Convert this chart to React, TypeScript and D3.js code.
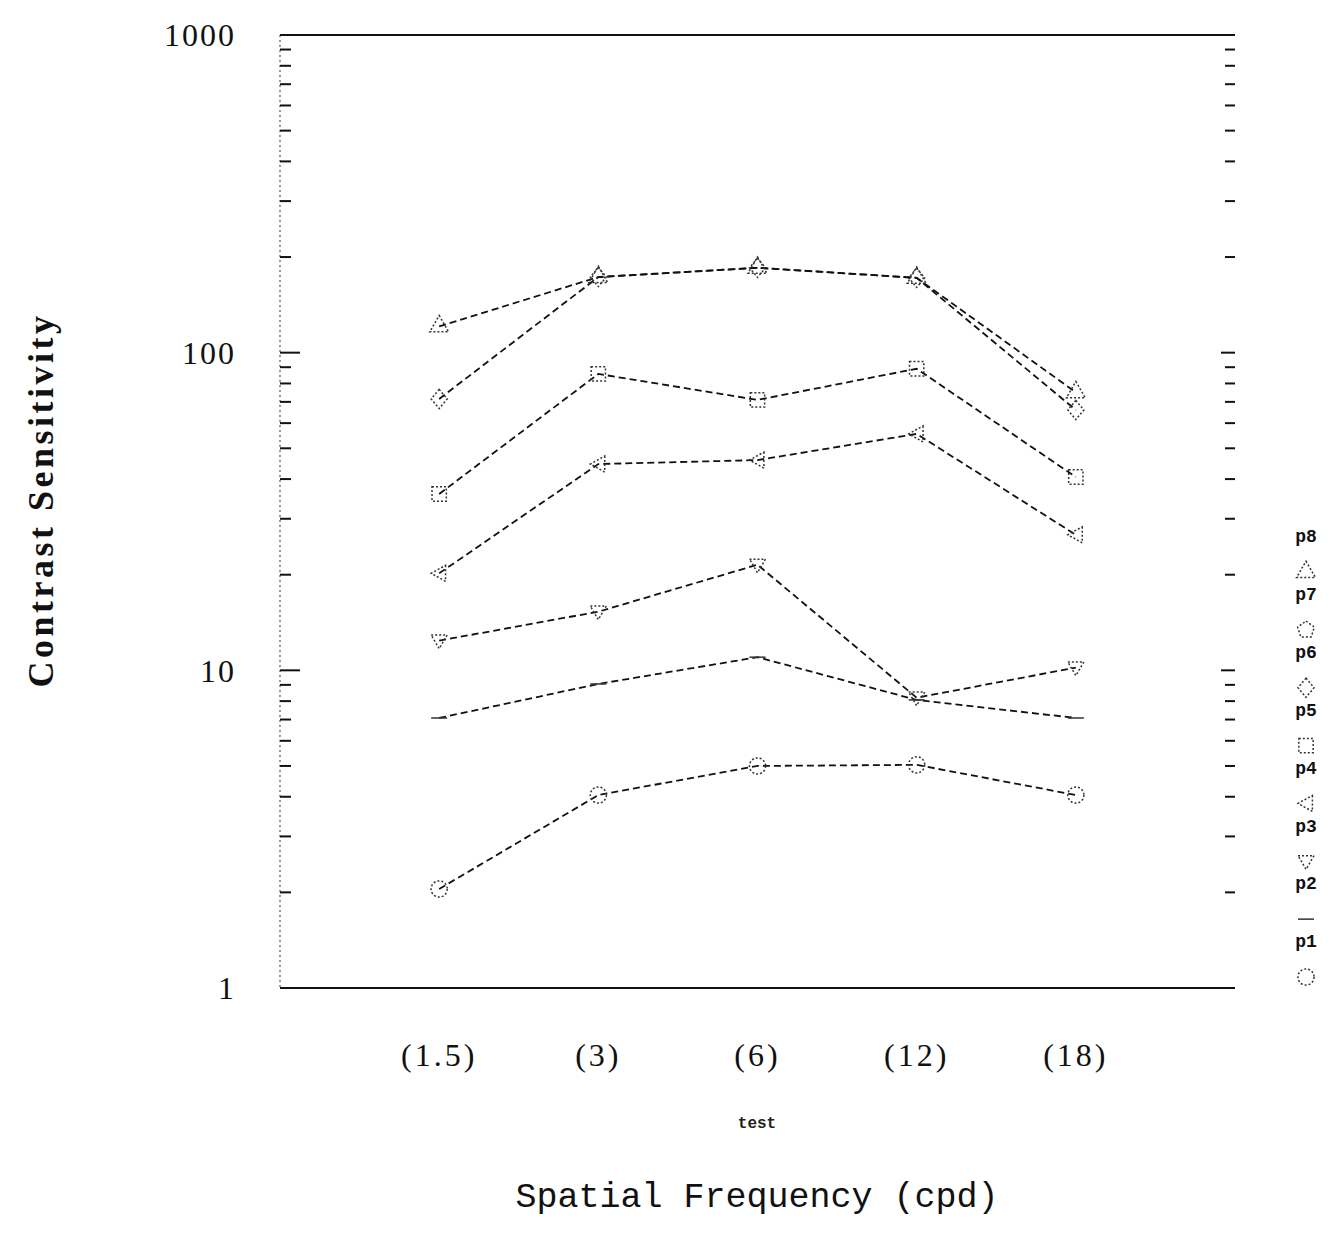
import React from "react";
import * as d3 from "d3";

const categories = ["(1.5)", "(3)", "(6)", "(12)", "(18)"];
const seriesNames = ["p1", "p2", "p3", "p4", "p5", "p6", "p7", "p8"];
const p1 = [2.05, 4.05, 5.0, 5.04, 4.05];
const p2 = [7.08, 9.06, 11.0, 8.07, 7.08];
const p3 = [12.4, 15.3, 21.5, 8.2, 10.2];
const p4 = [20.2, 44.6, 45.9, 55.5, 26.7];
const p5 = [35.9, 85.7, 71, 89, 40.6];
const p6 = [71.5, 173, 185, 172, 66];
const p7: number[] = [];
const p8 = [121, 173, 185, 172, 75];
const seriesValues = [p1, p2, p3, p4, p5, p6, p7, p8];
const yTickLabels = [1, 10, 100, 1000];

const W = 1329, H = 1239;
const L = 280, R = 1235, T = 35, B = 988;

type Shape = "circle" | "dash" | "tridown" | "trileft" | "square" | "diamond" | "pentagon" | "triup";
const shapes: Shape[] = ["circle", "dash", "tridown", "trileft", "square", "diamond", "pentagon", "triup"];

function markerPath(shape: Shape, s: number): string {
  switch (shape) {
    case "circle": return d3.symbol(d3.symbolCircle, s * s * 0.8)() || "";
    case "square": return d3.symbol(d3.symbolSquare, s * s * 0.8)() || "";
    case "diamond": return `M0,${-s * 0.6}L${s * 0.5},0L0,${s * 0.6}L${-s * 0.5},0Z`;
    case "triup": return d3.symbol(d3.symbolTriangle, s * s * 0.6)() || "";
    case "tridown": return `M${-s * 0.5},${-s * 0.35}L${s * 0.5},${-s * 0.35}L0,${s * 0.5}Z`;
    case "trileft": return `M${s * 0.4},${-s * 0.5}L${s * 0.4},${s * 0.5}L${-s * 0.5},0Z`;
    case "pentagon": {
      const pts = d3.range(5).map(i => {
        const a = -Math.PI / 2 + (i * 2 * Math.PI) / 5;
        return [Math.cos(a) * s * 0.55, Math.sin(a) * s * 0.55];
      });
      return "M" + pts.map(p => p.join(",")).join("L") + "Z";
    }
    case "dash": return `M${-s * 0.5},0L${s * 0.5},0`;
  }
}

export default function App() {
  const x = d3.scalePoint<string>().domain(categories).range([L, R]).padding(1);
  const y = d3.scaleLog().domain([1, 1000]).range([B, T]);
  const line = d3.line<number>()
    .x((_, i) => x(categories[i]) as number)
    .y(d => y(d));

  const ticks: { v: number; major: boolean }[] = [];
  for (let dec = 1; dec < 1000; dec *= 10) {
    for (let k = 1; k <= 9; k++) ticks.push({ v: k * dec, major: k === 1 });
  }
  ticks.push({ v: 1000, major: true });

  const legY = d3.scaleLinear().domain([0, 7]).range([977, 572]);
  const serif = "'Liberation Serif', 'DejaVu Serif', serif";
  const mono = "'Liberation Mono', 'DejaVu Sans Mono', monospace";

  return (
    <svg width={W} height={H} style={{ position: "absolute", left: 0, top: 0, background: "#fff" }}>
      <rect x={0} y={0} width={W} height={H} fill="#fff" />
      {/* frame */}
      <line x1={L} x2={R} y1={T} y2={T} stroke="#111" strokeWidth={2} />
      <line x1={L} x2={R} y1={B} y2={B} stroke="#111" strokeWidth={2} />
      <line x1={L} x2={L} y1={T} y2={B} stroke="#555" strokeWidth={1.2} strokeDasharray="2,3" />
      {ticks.map((t, i) => (
        <g key={i}>
          <line x1={L} x2={L + (t.major ? 20 : 11)} y1={y(t.v)} y2={y(t.v)} stroke="#111" strokeWidth={2} />
          <line x1={R - (t.major ? 14 : 10)} x2={R} y1={y(t.v)} y2={y(t.v)} stroke="#111" strokeWidth={2} />
        </g>
      ))}
      {yTickLabels.map(v => (
        <text key={v} x={236} y={y(v)} dy="0.35em" textAnchor="end" fontFamily={serif} fontSize={32} letterSpacing={2} fill="#111">{v}</text>
      ))}
      {categories.map(c => (
        <text key={c} x={x(c)} y={1055} dy="0.35em" textAnchor="middle" fontFamily={serif} fontSize={32} letterSpacing={3} fill="#111">{c}</text>
      ))}
      <text x={757} y={1122} dy="0.35em" textAnchor="middle" fontFamily={mono} fontSize={16} fontWeight="bold" fill="#222">test</text>
      <text x={757} y={1195} dy="0.35em" textAnchor="middle" fontFamily={mono} fontSize={35} fill="#111">Spatial Frequency (cpd)</text>
      <text transform={`translate(40,500) rotate(-90)`} dy="0.35em" textAnchor="middle" fontFamily={serif} fontSize={36} fontWeight="bold" letterSpacing={3.5} fill="#111">Contrast Sensitivity</text>

      {/* series */}
      {seriesValues.map((vals, si) => vals.length ? (
        <g key={seriesNames[si]}>
          <path d={line(vals) || ""} fill="none" stroke="#111" strokeWidth={1.8} strokeDasharray="7,4" />
          {vals.map((v, i) => (
            <path key={i} d={markerPath(shapes[si], 16)} transform={`translate(${x(categories[i])},${y(v)})`} fill="none" stroke="#333" strokeWidth={1.5} strokeDasharray={shapes[si] === "dash" ? "none" : "2,2"} />
          ))}
        </g>
      ) : null)}

      {/* legend */}
      {seriesNames.map((n, i) => (
        <g key={n}>
          <path d={markerPath(shapes[i], 16)} transform={`translate(1306,${legY(i)})`} fill="none" stroke="#333" strokeWidth={1.5} strokeDasharray={shapes[i] === "dash" ? "none" : "2,2"} />
          <text x={1306} y={legY(i) - 36} dy="0.35em" textAnchor="middle" fontFamily={mono} fontSize={18} fontWeight="bold" fill="#111">{n}</text>
        </g>
      ))}
    </svg>
  );
}
